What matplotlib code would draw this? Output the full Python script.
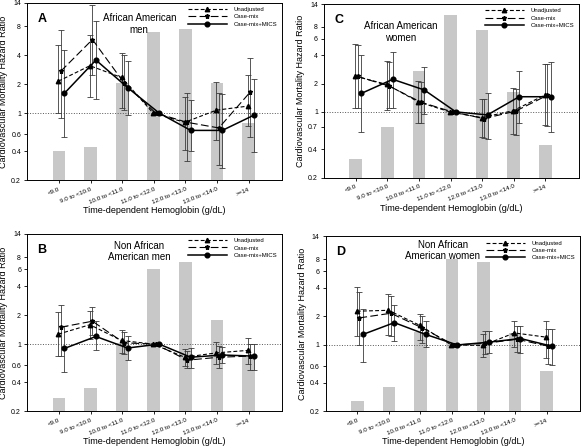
import numpy as np
import matplotlib
matplotlib.use('Agg')
import matplotlib.pyplot as plt
from matplotlib.ticker import NullLocator

nan = np.nan

# Hemoglobin categories (g/dL)
CATEGORIES = ['<9.0', '9.0 to <10.0', '10.0 to <11.0', '11.0 to <12.0',
              '12.0 to <13.0', '13.0 to <14.0', '>=14']

# Panel A - African American men
A_BARS = [0.40, 0.445, 2.03, 6.98, 7.39, 2.05, 0.79]
A_UNADJ = [2.14, 3.10, 2.34, 1.0, 0.80, 1.07, 1.18]
A_UNADJ_LO = [1.00, 1.47, 1.12, nan, 0.41, 0.53, 0.73]
A_UNADJ_HI = [5.08, 6.45, 4.16, nan, 1.47, 2.10, 2.48]
A_CASEMIX = [2.72, 5.80, 2.06, 1.0, 0.80, 0.70, 1.66]
A_CASEMIX_LO = [0.88, 2.47, 1.07, nan, 0.32, 0.29, 0.57]
A_CASEMIX_HI = [7.30, 13.2, 4.00, nan, 1.62, 1.60, 3.70]
A_MICS = [1.60, 3.55, 1.84, 1.0, 0.66, 0.66, 0.95]
A_MICS_LO = [0.56, 1.40, 0.95, nan, 0.40, 0.27, 0.39]
A_MICS_HI = [4.50, 9.10, 3.50, nan, 1.36, 1.56, 2.25]

# Panel B - Non African American men
B_BARS = [0.275, 0.35, 1.02, 6.05, 7.10, 1.78, 0.74]
B_UNADJ = [1.27, 1.59, 1.09, 1.0, 0.73, 0.81, 0.86]
B_UNADJ_LO = [0.76, 1.13, 0.81, nan, 0.59, 0.62, 0.62]
B_UNADJ_HI = [2.14, 2.20, 1.41, nan, 0.89, 1.05, 1.16]
B_CASEMIX = [1.50, 1.73, 1.03, 1.0, 0.68, 0.73, 0.75]
B_CASEMIX_LO = [0.76, 1.24, 0.78, nan, 0.56, 0.57, 0.54]
B_CASEMIX_HI = [2.54, 2.42, 1.34, nan, 0.85, 0.95, 1.00]
B_MICS = [0.90, 1.20, 0.91, 1.0, 0.73, 0.77, 0.75]
B_MICS_LO = [0.51, 0.86, 0.69, nan, 0.57, 0.64, 0.54]
B_MICS_HI = [1.55, 1.73, 1.20, nan, 0.90, 0.93, 1.00]

# Panel C - African American women
C_BARS = [0.316, 0.69, 2.74, 10.7, 7.42, 1.64, 0.44]
C_UNADJ = [2.40, 1.96, 1.28, 1.0, 0.87, 1.03, 1.51]
C_UNADJ_LO = [1.09, 1.06, 0.77, nan, 0.54, 0.58, 0.72]
C_UNADJ_HI = [5.26, 3.47, 2.13, nan, 1.37, 1.78, 3.22]
C_CASEMIX = [2.38, 1.88, 1.27, 1.0, 0.85, 1.02, 1.50]
C_CASEMIX_LO = [1.09, 1.09, 0.77, nan, 0.53, 0.57, 0.71]
C_CASEMIX_HI = [5.20, 3.40, 2.10, nan, 1.37, 1.76, 3.20]
C_MICS = [1.57, 2.22, 1.71, 1.0, 0.93, 1.45, 1.45]
C_MICS_LO = [0.61, 1.10, 0.94, nan, 0.52, 0.76, 0.61]
C_MICS_HI = [4.00, 4.28, 3.02, nan, 1.57, 2.74, 3.40]

# Panel D - Non African American women
D_BARS = [0.255, 0.36, 1.37, 8.0, 7.45, 1.33, 0.53]
D_UNADJ = [2.27, 2.32, 1.61, 1.0, 0.99, 1.34, 1.21]
D_UNADJ_LO = [1.23, 1.27, 1.14, nan, 0.74, 0.95, 0.73]
D_UNADJ_HI = [4.08, 3.47, 2.14, nan, 1.29, 1.81, 1.81]
D_CASEMIX = [1.93, 2.16, 1.51, 1.0, 1.04, 1.15, 0.97]
D_CASEMIX_LO = [1.00, 1.23, 1.05, nan, 0.80, 0.85, 0.63]
D_CASEMIX_HI = [3.62, 3.26, 2.04, nan, 1.41, 1.60, 1.47]
D_MICS = [1.29, 1.72, 1.29, 1.0, 1.07, 1.17, 0.97]
D_MICS_LO = [0.66, 1.11, 0.95, nan, 0.82, 0.82, 0.62]
D_MICS_HI = [2.40, 2.63, 1.78, nan, 1.41, 1.57, 1.47]

YTICKS_A = [0.2, 0.4, 0.6, 1, 2, 4, 8, 14]
YTICKS_B = [0.2, 0.4, 0.6, 1, 2, 4, 6, 8, 14]
YTICKS_C = [0.2, 0.4, 0.7, 1, 2, 4, 6, 8, 14]
YTICKS_D = [0.2, 0.4, 0.6, 1, 2, 4, 6, 8, 14]

plt.rcParams['font.family'] = ['Liberation Sans', 'DejaVu Sans']

BAR_COLOR = '#c8c8c8'
ERR_COLOR = '#3a3a3a'


def draw_panel(ax, letter, title, bars, series, yticks):
    x = np.arange(len(CATEGORIES))
    ax.bar(x, np.array(bars) - 0.2, bottom=0.2, width=0.4,
           color=BAR_COLOR, zorder=1)
    ax.axhline(1.0, color='#555555', linestyle=':', linewidth=0.7, zorder=2)

    styles = [
        ('Unadjusted', -0.02, (0, (3.5, 2)), '^', 0.8, 3.2),
        ('Case-mix', 0.06, (0, (7, 3)), '*', 0.8, 3.6),
        ('Case-mix+MICS', 0.17, '-', 'o', 1.1, 3.4),
    ]
    for (label, off, ls, mk, lw, ms), (hr, lo, hi) in zip(styles, series):
        hr = np.array(hr)
        lo = np.array(lo)
        hi = np.array(hi)
        xs = x + off
        ax.errorbar(xs, hr, yerr=[hr - lo, hi - hr], fmt='none',
                    ecolor=ERR_COLOR, elinewidth=0.6, capsize=2.2,
                    capthick=0.6, zorder=3)
        ax.plot(xs, hr, color='black', linestyle=ls, linewidth=lw,
                marker=mk, markersize=ms, label=label, zorder=4)

    ax.set_yscale('log')
    ax.set_ylim(0.2, 14)
    ax.set_xlim(-1.0, 7.05)
    ax.set_yticks(yticks)
    ax.set_yticklabels([f'{t:g}' for t in yticks])
    ax.yaxis.set_minor_locator(NullLocator())
    ax.set_xticks(x)
    ax.set_xticklabels(CATEGORIES, rotation=22, ha='right',
                       rotation_mode='anchor')
    ax.tick_params(axis='y', labelsize=5, length=2.5, width=0.6, pad=2)
    ax.tick_params(axis='x', labelsize=4.5, length=2.5, width=0.6, pad=2)
    for sp in ax.spines.values():
        sp.set_linewidth(0.7)
    ax.set_xlabel('Time-dependent Hemoglobin (g/dL)', fontsize=6.5, labelpad=1)
    ax.set_ylabel('Cardiovascular Mortality Hazard Ratio', fontsize=6.5,
                  labelpad=2)
    ax.text(0.04, 0.91, letter, transform=ax.transAxes, fontsize=9,
            fontweight='bold', va='center', ha='left')
    ax.text(title[1], title[2], title[0], transform=ax.transAxes,
            fontsize=7, ha='center', va='top', linespacing=1.15)
    ax.legend(loc='upper right', bbox_to_anchor=(1.0, 1.0), frameon=False,
              fontsize=4.3, handlelength=6.5, handletextpad=1.2,
              labelspacing=0.35, borderaxespad=0.3)


fig = plt.figure(figsize=(5.82, 4.48), dpi=100)
axA = fig.add_axes([0.047, 0.5975, 0.437, 0.3965])
axC = fig.add_axes([0.557, 0.6033, 0.437, 0.3877])
axB = fig.add_axes([0.047, 0.082, 0.437, 0.3958])
axD = fig.add_axes([0.560, 0.082, 0.436, 0.3906])

draw_panel(axA, 'A', ('African American\nmen', 0.44, 0.94), A_BARS,
           [(A_UNADJ, A_UNADJ_LO, A_UNADJ_HI),
            (A_CASEMIX, A_CASEMIX_LO, A_CASEMIX_HI),
            (A_MICS, A_MICS_LO, A_MICS_HI)], YTICKS_A)
draw_panel(axB, 'B', ('Non African\nAmerican men', 0.44, 0.96), B_BARS,
           [(B_UNADJ, B_UNADJ_LO, B_UNADJ_HI),
            (B_CASEMIX, B_CASEMIX_LO, B_CASEMIX_HI),
            (B_MICS, B_MICS_LO, B_MICS_HI)], YTICKS_B)
draw_panel(axC, 'C', ('African American\nwomen', 0.30, 0.90), C_BARS,
           [(C_UNADJ, C_UNADJ_LO, C_UNADJ_HI),
            (C_CASEMIX, C_CASEMIX_LO, C_CASEMIX_HI),
            (C_MICS, C_MICS_LO, C_MICS_HI)], YTICKS_C)
draw_panel(axD, 'D', ('Non African\nAmerican women', 0.46, 0.98), D_BARS,
           [(D_UNADJ, D_UNADJ_LO, D_UNADJ_HI),
            (D_CASEMIX, D_CASEMIX_LO, D_CASEMIX_HI),
            (D_MICS, D_MICS_LO, D_MICS_HI)], YTICKS_D)

fig.savefig('out.png', dpi=100)
